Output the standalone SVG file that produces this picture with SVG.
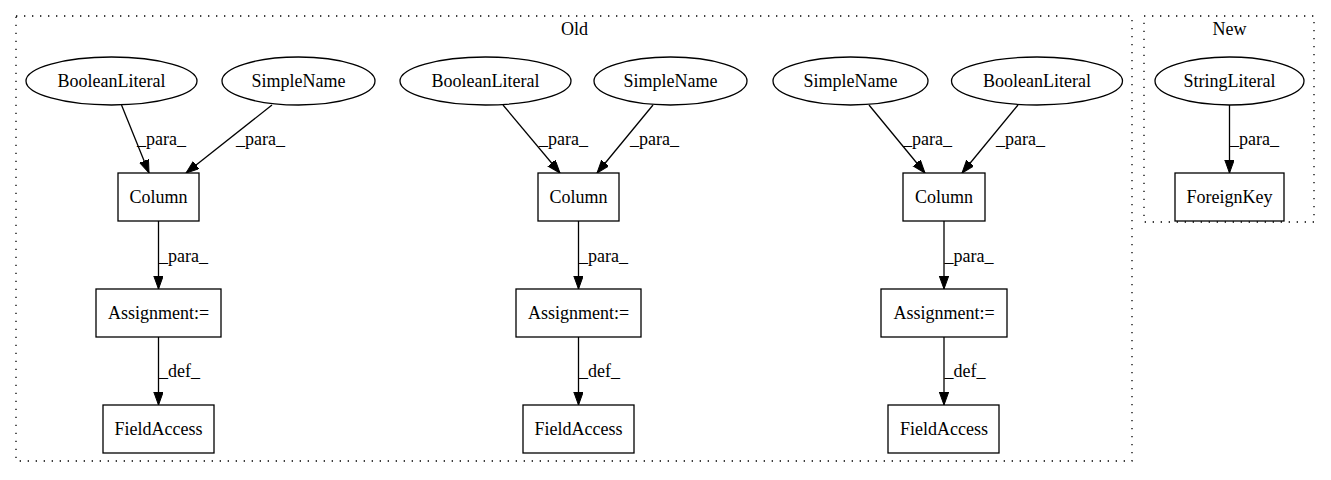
<svg xmlns="http://www.w3.org/2000/svg" width="1331" height="480" viewBox="0 0 1331 480" font-family="Liberation Serif, Times New Roman, serif" font-size="18px">
<style>
.n{fill:#fff;stroke:#000;stroke-width:1.3}
.c{fill:none;stroke:#000;stroke-width:1.3;stroke-dasharray:1.33,6.67}
.e{fill:none;stroke:#000;stroke-width:1.3;marker-end:url(#ah)}
.m{text-anchor:middle}
</style>
<defs>
<marker id="ah" markerUnits="userSpaceOnUse" markerWidth="14" markerHeight="11" refX="13" refY="4.7" orient="auto">
<path d="M0,0 L13,4.7 L0,9.4 z" fill="#000" stroke="#000" stroke-width="1"/>
</marker>
</defs>
<rect width="1331" height="480" fill="#fff"/>
<g id="cluster_old">
<rect class="c" x="16" y="16" width="1116" height="445"/>
<text class="m" x="574.5" y="35">Old</text>
</g>
<g id="cluster_new">
<rect class="c" x="1144" y="16" width="170" height="206"/>
<text class="m" x="1229.5" y="35">New</text>
</g>
<g id="connectors">
<path class="e" d="M121.5,105 L149,173"/>
<text x="137" y="145">_para_</text>
<path class="e" d="M272,105 L186,173"/>
<text x="236" y="145">_para_</text>
<path class="e" d="M158.5,221 L158.5,289"/>
<text x="159" y="262">_para_</text>
<path class="e" d="M158.5,337 L158.5,405"/>
<text x="159" y="377">_def_</text>
<path class="e" d="M503,105 L560,173"/>
<text x="539" y="145">_para_</text>
<path class="e" d="M653,105 L597,173"/>
<text x="630" y="145">_para_</text>
<path class="e" d="M578.5,221 L578.5,289"/>
<text x="579" y="262">_para_</text>
<path class="e" d="M578.5,337 L578.5,405"/>
<text x="579" y="377">_def_</text>
<path class="e" d="M869,105 L925,173"/>
<text x="903" y="145">_para_</text>
<path class="e" d="M1018,105 L962,173"/>
<text x="996" y="145">_para_</text>
<path class="e" d="M944,221 L944,289"/>
<text x="944.5" y="262">_para_</text>
<path class="e" d="M944,337 L944,405"/>
<text x="944.5" y="377">_def_</text>
<path class="e" d="M1229.5,105 L1229.5,173"/>
<text x="1230" y="145">_para_</text>
</g>
<g id="bl1"><ellipse class="n" cx="111.5" cy="81" rx="85.5" ry="24"/><text class="m" x="111.5" y="87">BooleanLiteral</text></g>
<g id="sn1"><ellipse class="n" cx="298.5" cy="81" rx="76.5" ry="24"/><text class="m" x="298.5" y="87">SimpleName</text></g>
<g id="col1"><rect class="n" x="118" y="173" width="81" height="48"/><text class="m" x="158.5" y="203">Column</text></g>
<g id="as1"><rect class="n" x="96" y="289" width="125" height="48"/><text class="m" x="158.5" y="319">Assignment:=</text></g>
<g id="fa1"><rect class="n" x="103" y="405" width="111" height="48"/><text class="m" x="158.5" y="435">FieldAccess</text></g>
<g id="bl2"><ellipse class="n" cx="485.5" cy="81" rx="85.5" ry="24"/><text class="m" x="485.5" y="87">BooleanLiteral</text></g>
<g id="sn2"><ellipse class="n" cx="670.5" cy="81" rx="76.5" ry="24"/><text class="m" x="670.5" y="87">SimpleName</text></g>
<g id="col2"><rect class="n" x="538" y="173" width="81" height="48"/><text class="m" x="578.5" y="203">Column</text></g>
<g id="as2"><rect class="n" x="516" y="289" width="125" height="48"/><text class="m" x="578.5" y="319">Assignment:=</text></g>
<g id="fa2"><rect class="n" x="523" y="405" width="111" height="48"/><text class="m" x="578.5" y="435">FieldAccess</text></g>
<g id="sn3"><ellipse class="n" cx="850.5" cy="81" rx="77.5" ry="24"/><text class="m" x="850.5" y="87">SimpleName</text></g>
<g id="bl3"><ellipse class="n" cx="1037" cy="81" rx="85.5" ry="24"/><text class="m" x="1037" y="87">BooleanLiteral</text></g>
<g id="col3"><rect class="n" x="903" y="173" width="82" height="48"/><text class="m" x="944" y="203">Column</text></g>
<g id="as3"><rect class="n" x="881" y="289" width="126" height="48"/><text class="m" x="944" y="319">Assignment:=</text></g>
<g id="fa3"><rect class="n" x="888" y="405" width="111" height="48"/><text class="m" x="944" y="435">FieldAccess</text></g>
<g id="sl"><ellipse class="n" cx="1229.5" cy="81" rx="74.5" ry="24"/><text class="m" x="1229.5" y="87">StringLiteral</text></g>
<g id="fk"><rect class="n" x="1175" y="173" width="109" height="48"/><text class="m" x="1229.5" y="203">ForeignKey</text></g>
</svg>
